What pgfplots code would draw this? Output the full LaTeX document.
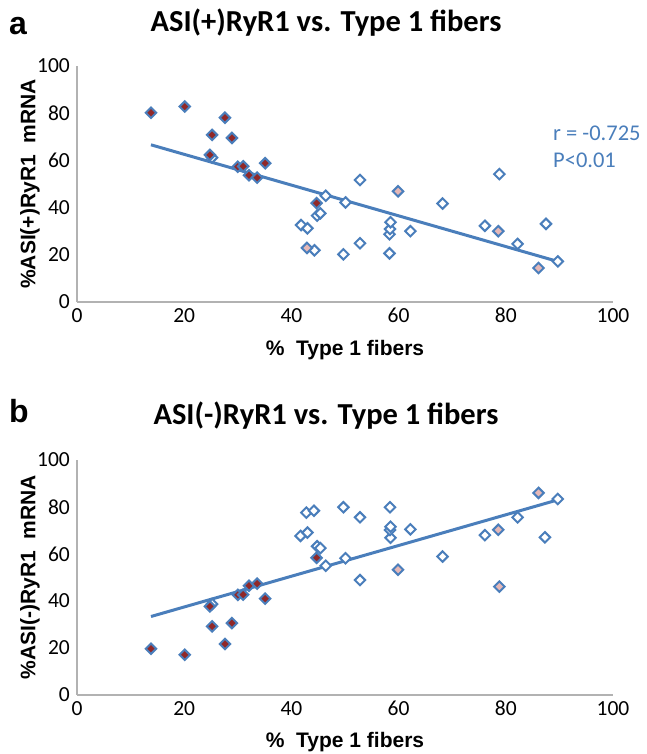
\documentclass[border=0pt]{standalone}
\usepackage{fontspec}
\setmainfont{Carlito}
\newfontfamily\arialfont{Liberation Sans}
\usepackage{pgfplots}
\pgfplotsset{compat=1.18}

\definecolor{xlblue}{RGB}{74,126,187}
\definecolor{xlred}{RGB}{145,40,40}
\definecolor{xlpink}{RGB}{230,184,183}
\definecolor{axgray}{RGB}{178,178,178}

\pgfplotsset{
  fibstyle/.style={
    scale only axis, width=536pt,
    xmin=0, xmax=100, ymin=0, ymax=100,
    xtick={0,20,...,100}, ytick={0,20,...,100},
    axis x line*=bottom, axis y line*=left,
    axis line style={-, draw=axgray, line width=1.2pt},
    tick style={draw=none},
    ticklabel style={font=\fontsize{21.5}{24}\selectfont},
    /pgf/number format/assume math mode=true,
    xticklabel style={anchor=north, inner sep=0pt, yshift=-6pt},
    yticklabel style={anchor=east, inner sep=0pt, xshift=-7pt},
    clip=false,
  },
  opn/.style={only marks, mark=square*, mark size=3.7pt,
    mark options={rotate=45, draw=xlblue, fill=white, line width=2pt}},
  red/.style={only marks, mark=square*, mark size=3.7pt,
    mark options={rotate=45, draw=xlblue, fill=xlred, line width=2pt}},
  pnk/.style={only marks, mark=square*, mark size=3.7pt,
    mark options={rotate=45, draw=xlblue, fill=xlpink, line width=2pt}},
  trend/.style={xlblue, line width=3pt},
}

\begin{document}
\begin{tikzpicture}
\useasboundingbox (0,0) rectangle (646pt,754pt);

% ---- panel a ----
\begin{axis}[fibstyle, height=236pt, at={(77pt,452pt)}, anchor=south west]
\addplot[opn] coordinates {
  (25.2,61.2) (41.8,32.6) (43.0,31.2) (44.3,21.9) (44.8,36.6) (45.4,37.6)
  (46.4,45.0) (49.7,20.2) (50.1,42.2) (52.8,51.7) (52.8,24.9) (58.3,20.6)
  (58.3,28.7) (58.4,30.9) (58.5,33.8) (62.2,30.0) (68.2,41.7) (76.1,32.3)
  (78.8,54.2) (82.2,24.6) (87.5,33.1) (89.7,17.2)};
\addplot[pnk] coordinates {(42.9,22.9) (59.9,46.9) (78.6,30.0) (86.1,14.4)};
\addplot[red] coordinates {
  (13.8,80.2) (20.1,82.8) (27.6,78.1) (25.2,70.8) (28.9,69.5) (24.8,62.3)
  (30.0,57.3) (31.0,57.5) (32.1,53.7) (33.6,52.7) (35.1,58.8) (44.7,41.9)};
\addplot[trend] coordinates {(13.8,66.6) (89.5,17.3)};
\node[anchor=base west, align=left, text=xlblue, inner sep=0pt,
  font=\fontsize{22.5}{27}\selectfont] at (axis cs:88.8,56.8)
  {r = -0.725\\P<0.01};
\end{axis}

% ---- panel b ----
\begin{axis}[fibstyle, height=235pt, at={(77pt,59pt)}, anchor=south west]
\addplot[opn] coordinates {
  (25.2,38.7) (41.7,67.7) (43.0,69.1) (42.8,77.6) (44.2,78.4) (44.8,63.3)
  (45.4,62.5) (46.4,55.0) (49.7,79.9) (50.1,58.2) (52.8,75.6) (52.8,48.9)
  (58.4,79.9) (58.5,66.9) (58.4,70.2) (58.5,71.6) (62.2,70.5) (68.2,58.9)
  (76.1,68.0) (82.2,75.6) (87.3,67.1) (89.7,83.4)};
\addplot[pnk] coordinates {(59.9,53.3) (78.6,70.3) (78.8,46.1) (86.1,86.0)};
\addplot[red] coordinates {
  (13.8,19.7) (20.1,17.1) (27.6,21.7) (25.2,29.2) (28.9,30.6) (24.8,37.7)
  (30.0,42.6) (31.0,42.7) (32.1,46.5) (33.6,47.4) (35.1,41.0) (44.7,58.4)};
\addplot[trend] coordinates {(13.8,33.4) (89.5,82.9)};
\end{axis}

% ---- titles and labels ----
\node[anchor=base west, font=\arialfont\bfseries\fontsize{32}{36}\selectfont, inner sep=0pt]
  at (9pt,719pt) {a};
\node[anchor=base west, font=\arialfont\bfseries\fontsize{32}{36}\selectfont, inner sep=0pt]
  at (9pt,331pt) {b};
\node[anchor=base, font=\bfseries\fontsize{30.5}{34}\selectfont, inner sep=0pt]
  at (326pt,722pt) {ASI(+)RyR1 vs. Type 1 fibers};
\node[anchor=base, font=\bfseries\fontsize{30.5}{34}\selectfont, inner sep=0pt]
  at (326pt,329pt) {ASI(-)RyR1 vs. Type 1 fibers};
\node[font=\arialfont\bfseries\fontsize{21}{24}\selectfont, inner sep=0pt]
  at (345pt,404pt) {\%\ \ Type 1 fibers};
\node[font=\arialfont\bfseries\fontsize{21}{24}\selectfont, inner sep=0pt]
  at (345pt,12pt) {\%\ \ Type 1 fibers};
\node[rotate=90, font=\arialfont\bfseries\fontsize{21}{24}\selectfont, inner sep=0pt]
  at (30pt,570pt) {\%ASI(+)RyR1\ \ mRNA};
\node[rotate=90, font=\arialfont\bfseries\fontsize{21}{24}\selectfont, inner sep=0pt]
  at (30pt,177pt) {\%ASI(-)RyR1\ \ mRNA};
\end{tikzpicture}
\end{document}
